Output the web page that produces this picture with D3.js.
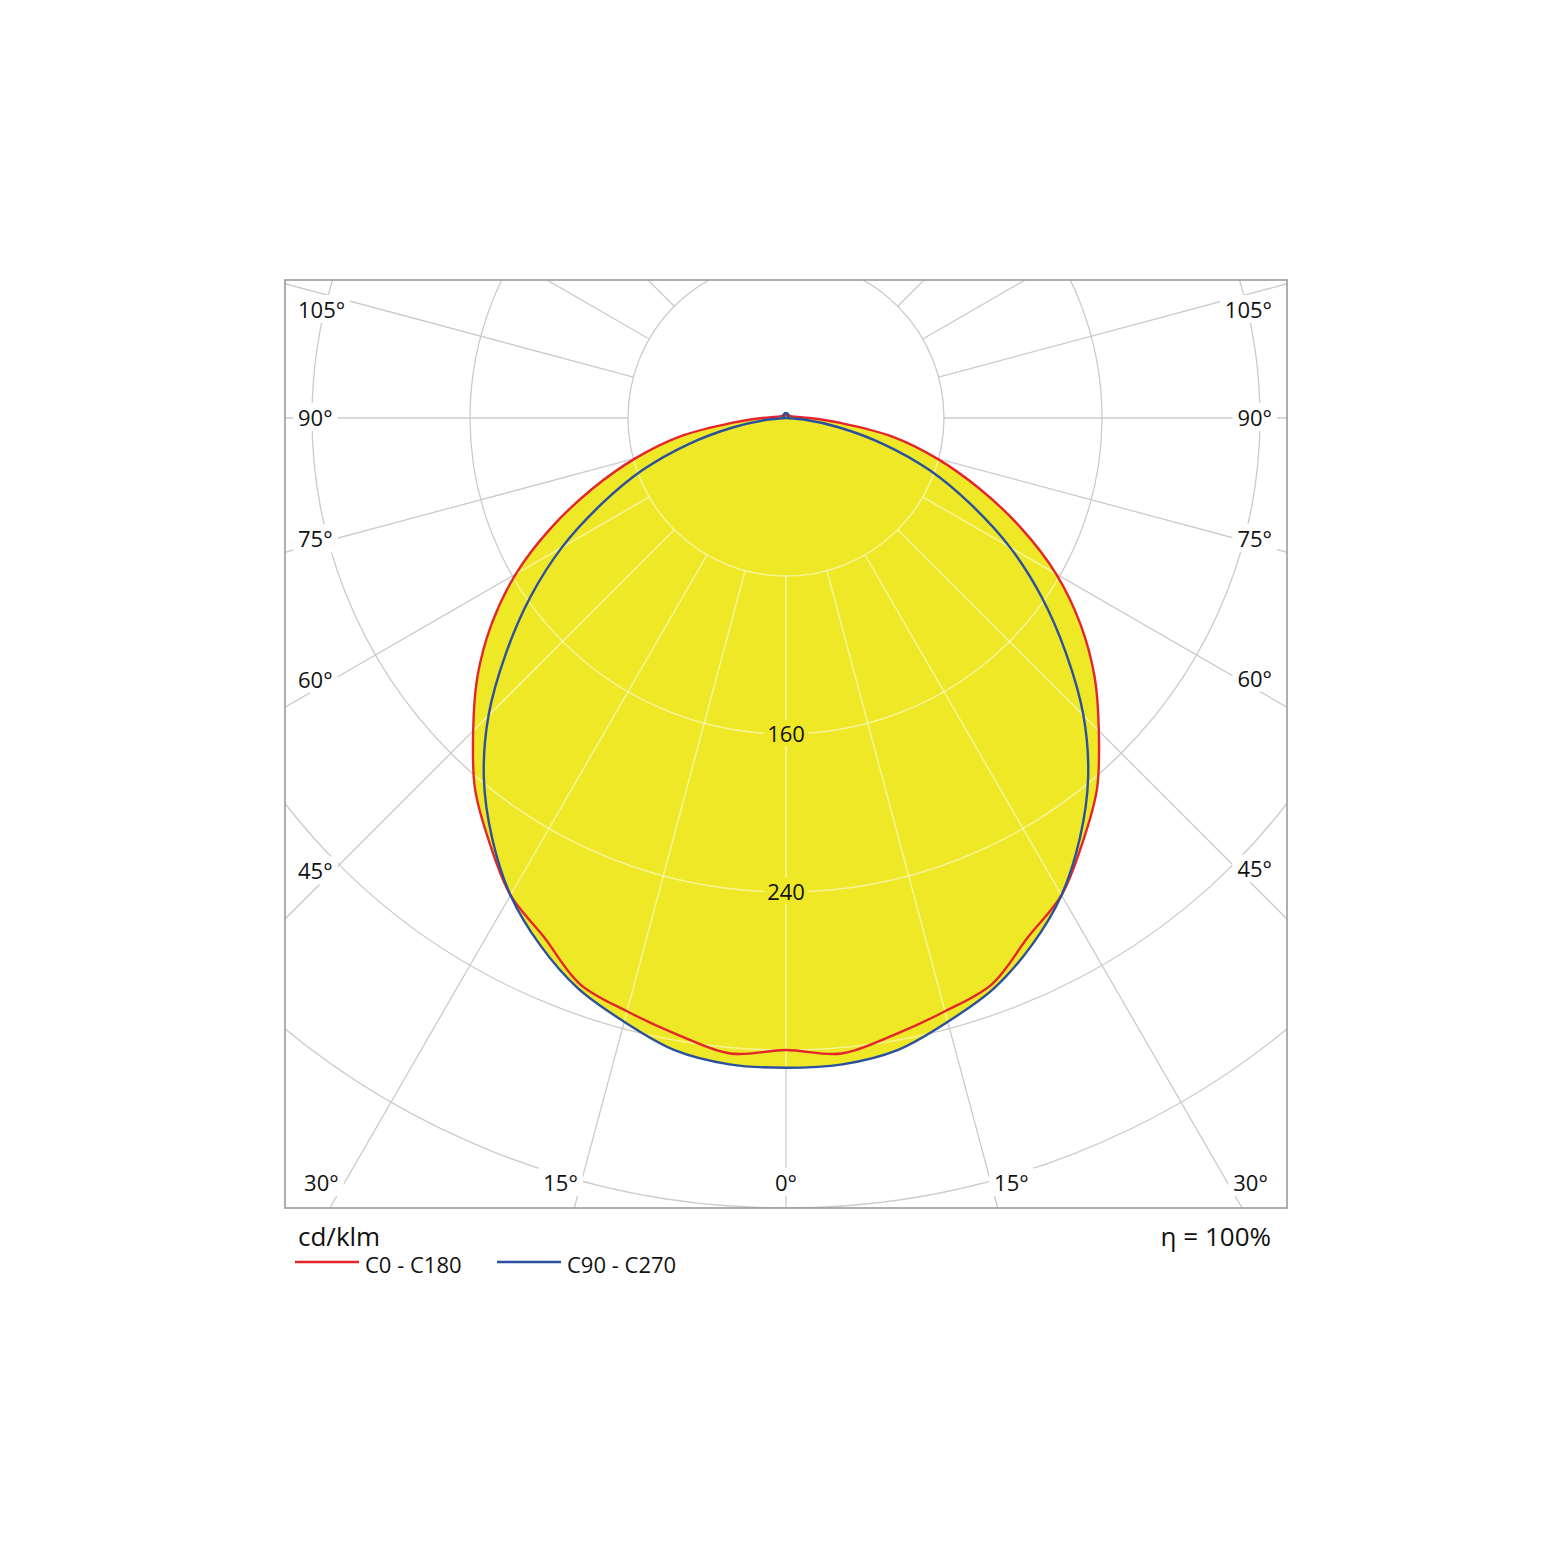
<!DOCTYPE html>
<html>
<head>
<meta charset="utf-8">
<script src="https://cdn.jsdelivr.net/npm/d3@7"></script>
<style>
  html, body { margin: 0; background: #fff; }
  svg text { font-family: "Open Sans", "Noto Sans", sans-serif; fill: #111; }
</style>
</head>
<body>
<svg id="chart" width="1560" height="1561"></svg>
<script>
// ---- data (cd/klm) ----
const GAMMA = [0,5,10,15,20,25,30,35,40,45,50,55,60,65,70,75,80,85,90,
               95,100,105,110,115,120,125,130,135,140,145,150,155,160,165,170,175,180];
const C0_C180 = [320,323,317,311,305,290,279,262,245,224,204,182,158,131,104,79,55,27,12,
                 6,4,3,2.6,2.4,2.2,2.1,2,1.9,1.8,1.8,1.7,1.7,1.6,1.6,1.5,1.5,1.5];
const C90_C270 = [329,328.5,325,316.5,307.5,294.5,279,259.5,238,213,185,158,131,103,77.5,51,27,9,0,
                  0.2,0.4,0.65,0.85,1.05,1.25,1.43,1.6,1.77,1.9,2.05,2.17,2.27,2.35,2.41,2.46,2.49,2.5];
const RINGS = [80,160,240,320,400,480];
const RING_LABELS = [160,240];
const SPOKES = [0,15,30,45,60,75,90,105,120,135,150,165,180];
const SPOKE_LABELS = [0,15,30,45,60,75,90,105];
const SERIES = ["C0 - C180","C90 - C270"];
const UNIT = "cd/klm";
const EFFICIENCY = "\u03b7 = 100%";

// ---- layout ----
const cx = 786, cy = 418;
const frame = {x0:285, y0:280, x1:1287, y1:1208};
const COL = {red:"#e3262b", blue:"#2b509e", fill:"#eee826", grid:"#cbcbcb", frame:"#9a9a9a"};
const rad = d => d*Math.PI/180;

const svg = d3.select("#chart");
const r = d3.scaleLinear().domain([0,400]).range([0,790]);
const defs = svg.append("defs");

defs.append("clipPath").attr("id","frameClip")
  .append("rect").attr("x",frame.x0).attr("y",frame.y0)
  .attr("width",frame.x1-frame.x0).attr("height",frame.y1-frame.y0);

// closed radial outline: right half (a = pi - g), then left half (a = pi + g)
function outline(vals){
  const pts = [];
  for(let i=GAMMA.length-1;i>=0;i--) pts.push([Math.PI - rad(GAMMA[i]), vals[i]]);
  for(let i=1;i<GAMMA.length-1;i++) pts.push([Math.PI + rad(GAMMA[i]), vals[i]]);
  return pts;
}
const radial = d3.lineRadial()
  .angle(d=>d[0]).radius(d=>r(d[1]))
  .curve(d3.curveCatmullRomClosed.alpha(0.5));
const shapes = [outline(C0_C180), outline(C90_C270)];

const fillClip = defs.append("clipPath").attr("id","fillClip");
shapes.forEach(s=> fillClip.append("path").attr("transform",`translate(${cx},${cy})`).attr("d",radial(s)));

function drawGrid(g, stroke, width){
  g.selectAll("circle.ring").data(RINGS).join("circle")
    .attr("class","ring").attr("cx",cx).attr("cy",cy).attr("r",d=>r(d))
    .attr("fill","none").attr("stroke",stroke).attr("stroke-width",width);
  const spokes = [];
  SPOKES.forEach(s=>{ spokes.push(Math.PI - rad(s)); if(s>0 && s<180) spokes.push(Math.PI + rad(s)); });
  g.selectAll("line.spoke").data(spokes).join("line")
    .attr("class","spoke")
    .attr("x1",a=>cx + r(80)*Math.sin(a)).attr("y1",a=>cy - r(80)*Math.cos(a))
    .attr("x2",a=>cx + r(600)*Math.sin(a)).attr("y2",a=>cy - r(600)*Math.cos(a))
    .attr("stroke",stroke).attr("stroke-width",width);
}

const plot = svg.append("g").attr("clip-path","url(#frameClip)");
drawGrid(plot.append("g"), COL.grid, 1.3);

// yellow area (union of both planes)
plot.append("g").selectAll("path").data(shapes).join("path")
  .attr("transform",`translate(${cx},${cy})`)
  .attr("d",radial).attr("fill",COL.fill);

// pale grid on top of the fill
drawGrid(plot.append("g").attr("clip-path","url(#fillClip)"), "rgba(255,255,255,0.5)", 1.6);

// ring value labels
RING_LABELS.forEach(v=>{
  const g = plot.append("g");
  const t = g.append("text").attr("x",cx).attr("y",cy + r(v)).attr("dy","0.36em")
    .attr("text-anchor","middle").attr("font-size",22).text(v);
  const b = t.node().getBBox();
  g.insert("rect","text").attr("x",b.x-3).attr("y",b.y+2).attr("width",b.width+6).attr("height",b.height-4)
    .attr("fill",COL.fill);
});

// curves
plot.append("g").selectAll("path").data(shapes).join("path")
  .attr("transform",`translate(${cx},${cy})`)
  .attr("d",radial).attr("fill","none")
  .attr("stroke",(d,i)=> i===0 ? COL.red : COL.blue)
  .attr("stroke-width",2.4).attr("stroke-linejoin","round");

// angle labels around the frame
const lab = svg.append("g");
function angleLabel(v, side){
  const g = lab.append("g");
  const t = g.append("text").attr("font-size",22).text(v + "\u00b0");
  const w = t.node().getComputedTextLength();
  const tg = Math.tan(rad(v));
  if(v <= 30){
    const yc = frame.y1 - 25, yb = yc + 8;
    const xl = cx + side * tg * (yb - cy);
    t.attr("y",yc).attr("dy","0.36em")
     .attr("x", v===0 ? cx : xl + side*1)
     .attr("text-anchor", v===0 ? "middle" : (side<0 ? "end" : "start"));
  } else {
    const xs = side<0 ? frame.x0 + 13 : frame.x1 - 15;
    const xe = xs - side*w;
    let yc = cy + Math.abs(xe - cx) * Math.cos(rad(v)) / Math.sin(rad(v));
    yc = Math.max(yc, frame.y0 + 30);
    t.attr("x",xs).attr("y",yc).attr("dy","0.36em")
     .attr("text-anchor", side<0 ? "start" : "end");
  }
  const b = t.node().getBBox();
  g.insert("rect","text").attr("x",b.x-5).attr("y",b.y+1).attr("width",b.width+10).attr("height",b.height-2)
    .attr("fill","#fff");
}
SPOKE_LABELS.forEach(v=>{
  if(v===0) angleLabel(0, 1);
  else { angleLabel(v,-1); angleLabel(v,1); }
});

// frame
svg.append("rect").attr("x",frame.x0).attr("y",frame.y0)
  .attr("width",frame.x1-frame.x0).attr("height",frame.y1-frame.y0)
  .attr("fill","none").attr("stroke",COL.frame).attr("stroke-width",1.6);

// unit, efficiency, legend
svg.append("text").attr("x",298).attr("y",1246).attr("font-size",26).text(UNIT);
svg.append("text").attr("x",1271).attr("y",1246).attr("font-size",26).attr("text-anchor","end").text(EFFICIENCY);

const legend = svg.append("g").attr("transform","translate(295,1262)");
const legX = [0, 202];
SERIES.forEach((name,i)=>{
  const g = legend.append("g").attr("transform",`translate(${legX[i]},0)`);
  g.append("line").attr("x1",0).attr("x2",64).attr("y1",0).attr("y2",0)
    .attr("stroke", i===0 ? COL.red : COL.blue).attr("stroke-width",2.4);
  g.append("text").attr("x",70).attr("y",11).attr("font-size",22).text(name);
});
</script>
</body>
</html>
